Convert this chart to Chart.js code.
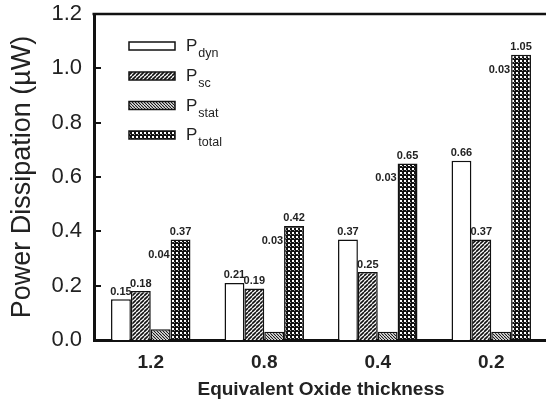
<!DOCTYPE html>
<html><head><meta charset="utf-8">
<script src="https://cdn.jsdelivr.net/npm/chart.js@4.4.0/dist/chart.umd.min.js"></script>
<style>html,body{margin:0;padding:0;background:#fff;overflow:hidden;width:546px;height:407px}
#wrap{position:relative;width:552px;height:407px}</style></head>
<body><div id="wrap"><canvas id="c" width="552" height="407"></canvas></div>
<script>
const categories = ['1.2', '0.8', '0.4', '0.2'];
const seriesSubs = ['dyn', 'sc', 'stat', 'total'];
const pDyn = [0.15, 0.21, 0.37, 0.66];
const pSc = [0.18, 0.19, 0.25, 0.37];
const pStat = [0.04, 0.03, 0.03, 0.03];
const pTotal = [0.37, 0.42, 0.65, 1.05];
const yTicks = [0, 0.2, 0.4, 0.6, 0.8, 1.0, 1.2];

const FAM = '"Liberation Sans", Arial, Helvetica, sans-serif';
const INK = '#111';
const TXT = '#222';

function makePattern(size, draw) {
  const c = document.createElement('canvas');
  c.width = c.height = size;
  const g = c.getContext('2d');
  draw(g, size);
  return document.createElement('canvas').getContext('2d').createPattern(c, 'repeat');
}
const patSc = makePattern(4, (g, s) => {
  g.fillStyle = '#fff'; g.fillRect(0, 0, s, s);
  g.strokeStyle = INK; g.lineWidth = 1.6;
  for (const o of [-s, 0, s]) { g.beginPath(); g.moveTo(o, s); g.lineTo(o + s, 0); g.stroke(); }
});
const patStat = makePattern(3, (g, s) => {
  g.fillStyle = '#fff'; g.fillRect(0, 0, s, s);
  g.strokeStyle = INK; g.lineWidth = 1.1;
  for (const o of [-s, 0, s]) { g.beginPath(); g.moveTo(o, 0); g.lineTo(o + s, s); g.stroke(); }
});
const patTotal = makePattern(4, (g, s) => {
  g.fillStyle = INK; g.fillRect(0, 0, s, s);
  g.fillStyle = '#fff';
  g.fillRect(0, 0, 2, 2);
  g.fillStyle = '#999';
  g.fillRect(2, 2, 1, 1);
});
const fills = ['#ffffff', patSc, patStat, patTotal];

const overlay = {
  id: 'overlay',
  afterDatasetsDraw(chart) {
    const ctx = chart.ctx;
    const a = chart.chartArea;
    ctx.save();
    // top frame line
    ctx.strokeStyle = INK; ctx.lineWidth = 2.5;
    ctx.beginPath(); ctx.moveTo(a.left - 1.5, a.top); ctx.lineTo(a.right + 2, a.top); ctx.stroke();
    // inward y ticks
    const ys = chart.scales.y;
    ctx.lineWidth = 2;
    yTicks.forEach(v => {
      if (v <= 0 || v >= 1.2) return;
      const y = Math.round(ys.getPixelForValue(v));
      ctx.beginPath(); ctx.moveTo(a.left, y); ctx.lineTo(a.left + 7, y); ctx.stroke();
    });
    // value labels
    ctx.fillStyle = TXT;
    ctx.font = 'bold 11px ' + FAM;
    const totalMeta = chart.getDatasetMeta(3);
    chart.data.datasets.forEach((ds, di) => {
      const meta = chart.getDatasetMeta(di);
      meta.data.forEach((bar, i) => {
        const txt = ds.data[i].toFixed(2);
        if (di === 2) {
          const tb = totalMeta.data[i];
          ctx.textAlign = 'right'; ctx.textBaseline = 'middle';
          ctx.fillText(txt, tb.x - tb.width / 2 - 1, tb.y + 15);
        } else {
          ctx.textAlign = 'center'; ctx.textBaseline = 'bottom';
          ctx.fillText(txt, bar.x, bar.y - 2);
        }
      });
    });
    // legend
    const ly = [46, 76, 105.5, 135];
    seriesSubs.forEach((sub, i) => {
      const yc = ly[i];
      ctx.fillStyle = fills[i];
      ctx.fillRect(129, yc - 4, 46, 8);
      ctx.strokeStyle = INK; ctx.lineWidth = 1.5;
      ctx.strokeRect(129, yc - 4, 46, 8);
      ctx.fillStyle = TXT;
      ctx.textAlign = 'left'; ctx.textBaseline = 'alphabetic';
      ctx.font = '17px ' + FAM;
      ctx.fillText('P', 186, yc + 5);
      const pw = ctx.measureText('P').width;
      ctx.font = '12.5px ' + FAM;
      ctx.fillText(sub, 186 + pw + 1, yc + 11);
    });
    ctx.restore();
  }
};

new Chart(document.getElementById('c'), {
  type: 'bar',
  data: {
    labels: categories,
    datasets: [
      { label: 'P_dyn', data: pDyn, backgroundColor: fills[0] },
      { label: 'P_sc', data: pSc, backgroundColor: fills[1] },
      { label: 'P_stat', data: pStat, backgroundColor: fills[2] },
      { label: 'P_total', data: pTotal, backgroundColor: fills[3] }
    ]
  },
  options: {
    responsive: false,
    animation: false,
    events: [],
    layout: { padding: { top: 14, right: 4, left: 0, bottom: 0 } },
    datasets: { bar: { categoryPercentage: 0.70, barPercentage: 1.0, borderColor: INK, borderWidth: 1.5 } },
    plugins: { legend: { display: false }, tooltip: { enabled: false } },
    scales: {
      x: {
        grid: { display: false, drawTicks: false },
        border: { display: true, color: INK, width: 3 },
        ticks: { font: { family: FAM, size: 19, weight: 'bold' }, color: TXT, padding: 11 },
        title: { display: true, text: 'Equivalent Oxide thickness', color: TXT,
                 font: { family: FAM, size: 19, weight: 'bold' }, padding: { top: 0, bottom: 6 } },
        afterFit(s) { s.height = 67; s.paddingLeft = 0; s.paddingRight = 0; }
      },
      y: {
        min: 0, max: 1.2,
        afterBuildTicks(s) { s.ticks = yTicks.map(v => ({ value: v })); },
        ticks: { callback: v => Number(v).toFixed(1), font: { family: FAM, size: 22 }, color: TXT, padding: 12 },
        grid: { display: false, drawTicks: false },
        border: { display: true, color: INK, width: 3 },
        title: { display: true, text: 'Power Dissipation (\u00b5W)', color: TXT,
                 font: { family: FAM, size: 27 }, padding: { top: 6, bottom: 0 } },
        afterFit(s) { s.width = 94; s.paddingTop = 0; s.paddingBottom = 0; }
      }
    }
  },
  plugins: [overlay]
});
</script></body></html>
